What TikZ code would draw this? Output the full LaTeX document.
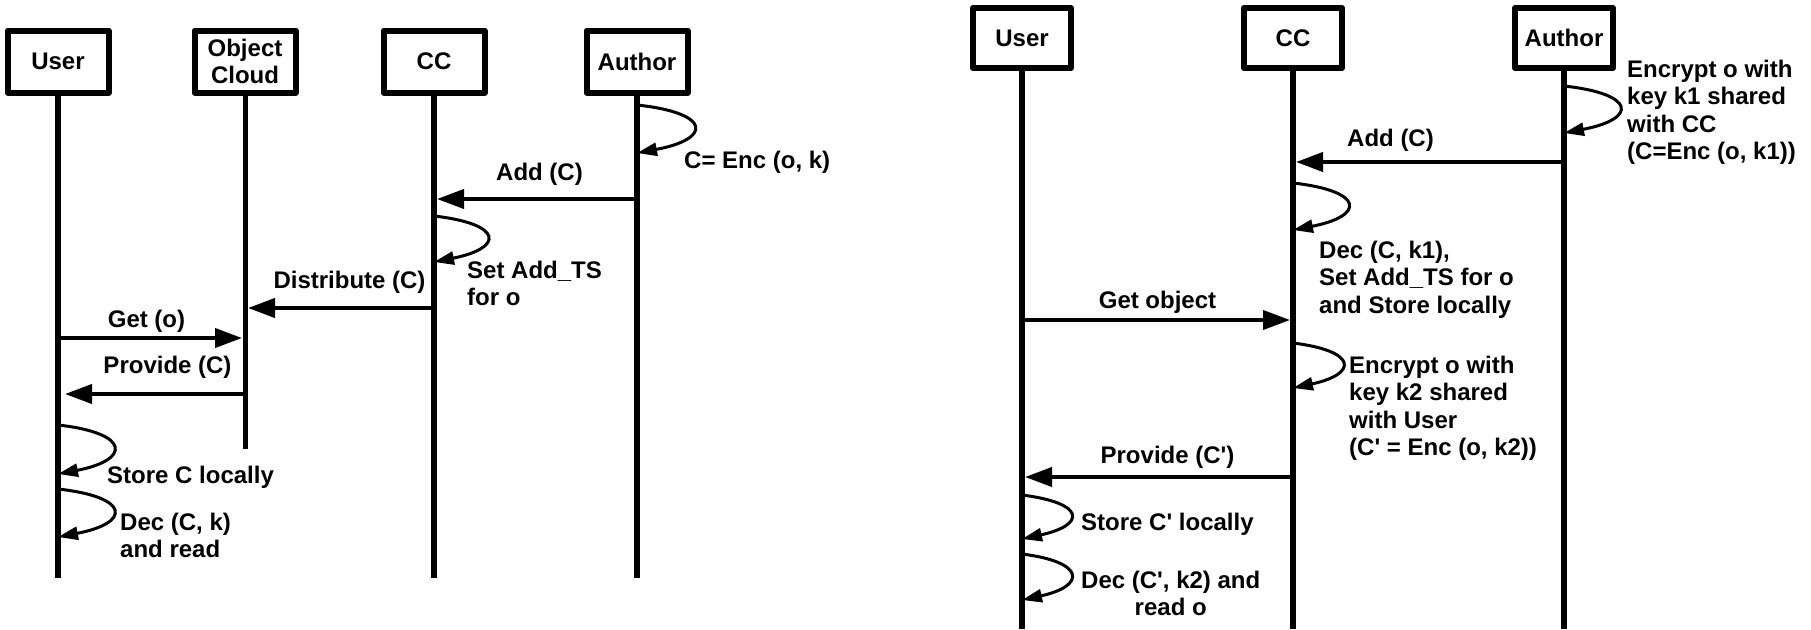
\documentclass[tikz,border=0pt]{standalone}
\usepackage{fontspec}
\setmainfont{Liberation Sans}
\usetikzlibrary{arrows.meta}

\begin{document}
\begin{tikzpicture}[x=1pt, y=-1pt, font=\fontsize{24}{27.5}\selectfont\bfseries]
        \useasboundingbox (0,0) rectangle (1811,629);
        \begin{scope}[every node/.style={draw, line width=6pt, line join=round, minimum width=101pt, minimum height=62pt, inner sep=0, align=center}]
                \node (U1) at (58,61.5) {User};
                \node (O1) at (245,61.5) {Object\\Cloud};
                \node (C1) at (434,61.5) {CC};
                \node (A1) at (637,61.5) {Author};
        \end{scope}
        \begin{scope}[every node/.style={draw, line width=6pt, line join=round, minimum width=98pt, minimum height=60pt, inner sep=0}]
                \node (U2) at (1022,38) {User};
                \node (C2) at (1293,38) {CC};
                \node (A2) at (1564,38) {Author};
        \end{scope}
        \begin{scope}[every path/.style={line width=6pt}]
                \draw (U1) -- (U1 |- 0,578);
                \draw[line width=5pt] (O1) -- (O1 |- 0,449);
                \draw (C1) -- (C1 |- 0,578);
                \draw (A1) -- (A1 |- 0,578);
                \draw (U2) -- (U2 |- 0,629);
                \draw (C2) -- (C2 |- 0,629);
                \draw (A2) -- (A2 |- 0,629);
        \end{scope}
        \begin{scope}[every node/.style={inner sep=0}, every path/.style={line width=4pt, -{Triangle[length=27pt,width=19pt]}, shorten >=3pt}]
                \path (A1 |- 0,199) edge node[above=12pt, xshift=4pt] (addL) {Add (C)} (C1 |- 0,199);
                \path (C1 |- 0,308) edge node[above=13pt, xshift=10pt] (distL) {Distribute (C)} (O1 |- 0,308);
                \path (U1 |- 0,338) edge node[above=4pt, xshift=-5pt] (getL) {Get (o)} (O1 |- 0,338);
                \path (O1 |- 0,394) edge[shorten >=7pt] node[above=14pt, xshift=16pt] (provL) {Provide (C)} (U1 |- 0,394);

                \path (A2 |- 0,162) edge node[above=9pt, xshift=-38pt] (addR) {Add (C)} (C2 |- 0,162);
                \path (U2 |- 0,320) edge node[above=5pt] (getR) {Get object} (C2 |- 0,320);
                \path (C2 |- 0,477) edge node[above=7pt, xshift=10pt] (provR) {Provide (C\textquotesingle)} (U2 |- 0,477);
        \end{scope}
        \begin{scope}[every path/.style={line width=3pt, -{Triangle[length=20pt,width=13pt]}}]
                \draw (A1 |- 0,105) .. controls +(75,8) and +(75,-14) .. (A1 |- 0,153);
                \draw (C1 |- 0,216) .. controls +(70,8) and +(70,-14) .. (C1 |- 0,262);
                \draw (U1 |- 0,425) .. controls +(73,8) and +(73,-14) .. (U1 |- 0,474);
                \draw (U1 |- 0,489) .. controls +(73,8) and +(73,-14) .. (U1 |- 0,537);

                \draw (A2 |- 0,86) .. controls +(73,8) and +(73,-14) .. (A2 |- 0,133);
                \draw (C2 |- 0,183) .. controls +(72,8) and +(72,-14) .. (C2 |- 0,230);
                \draw (C2 |- 0,343) .. controls +(65,8) and +(65,-14) .. (C2 |- 0,388);
                \draw (U2 |- 0,495) .. controls +(64,8) and +(64,-14) .. (U2 |- 0,539);
                \draw (U2 |- 0,554) .. controls +(64,8) and +(64,-14) .. (U2 |- 0,600);
        \end{scope}
        \begin{scope}[every node/.style={inner sep=0, align=left}]
                \node[anchor=base west] (encL) at (684,168) {C= Enc (o, k)};
                \node[anchor=north west] (setL) at (467,260.5) {Set Add\_TS\\for o};
                \node[anchor=base west] (storeL) at (107,483) {Store C locally};
                \node[anchor=north west] (decL) at (120,512.5) {Dec (C, k)\\and read};

                \node[anchor=north west] (encR) at (1627,59.5) {Encrypt o with\\key k1 shared\\with CC\\(C=Enc (o, k1))};
                \node[anchor=north west] (decR) at (1319,240.5) {Dec (C, k1),\\Set Add\_TS for o\\and Store locally};
                \node[anchor=north west] (enc2R) at (1349,355.5) {Encrypt o with\\key k2 shared\\with User\\(C\textquotesingle{} = Enc (o, k2))};
                \node[anchor=base west] (storeR) at (1081,530) {Store C\textquotesingle{} locally};
                \node[anchor=north west, align=center] (dec2R) at (1081,570.5) {Dec (C\textquotesingle, k2) and\\read o};
        \end{scope}
\end{tikzpicture}
\end{document}
